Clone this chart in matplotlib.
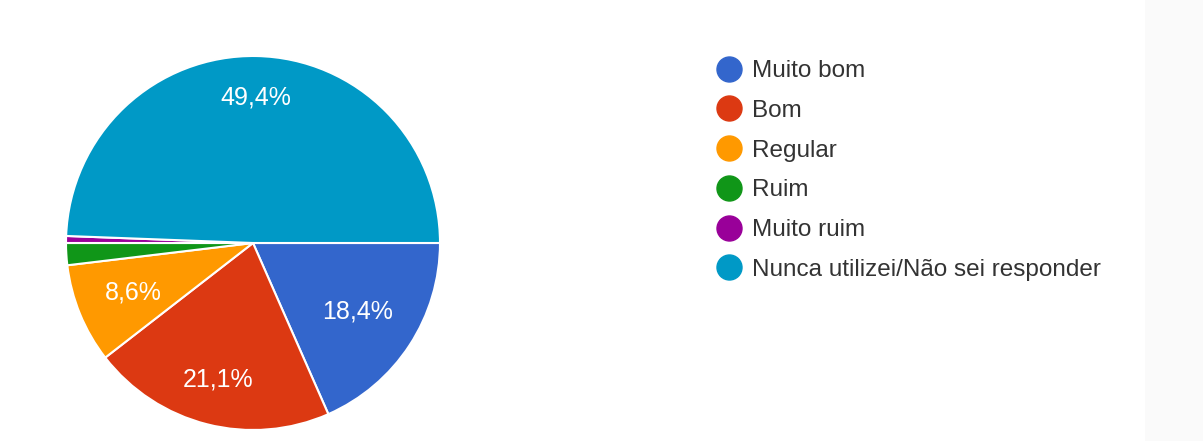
import matplotlib
matplotlib.use("Agg")
import matplotlib.pyplot as plt
from matplotlib.lines import Line2D
import numpy as np

categories = ["Muito bom", "Bom", "Regular", "Ruim", "Muito ruim", "Nunca utilizei/Não sei responder"]
values = [18.4, 21.1, 8.6, 1.9, 0.6, 49.4]
colors = ["#3366cc", "#dc3912", "#ff9900", "#109618", "#990099", "#0099c6"]
label_dist = [0.67, 0.755, 0.69, 0.7, 0.7, 0.78]

plt.rcParams['font.family'] = ['Liberation Sans', 'DejaVu Sans']

W, H = 1203, 441
fig = plt.figure(figsize=(W/100, H/100), dpi=100)
fig.patch.set_facecolor("white")
fig.patches.append(plt.Rectangle((1145/W, 0), 1 - 1145/W, 1, transform=fig.transFigure,
                                 facecolor="#fafafa", edgecolor="none", zorder=0))

cx, cy, r = 253, 243, 187
ax = fig.add_axes([(cx - r)/W, (H - cy - r)/H, 2*r/W, 2*r/H])

def fmt(p):
    return ("%.1f%%" % p).replace(".", ",") if p >= 5 else ""

wedges, texts, autotexts = ax.pie(values, colors=colors, startangle=0, counterclock=False,
                                  radius=1, autopct=fmt, pctdistance=0.7,
                                  wedgeprops=dict(edgecolor="white", linewidth=1.5),
                                  textprops=dict(color="white", fontsize=18))
ax.set_xlim(-1, 1)
ax.set_ylim(-1, 1)
ax.axis("off")
for w, t, d in zip(wedges, autotexts, label_dist):
    ang = np.deg2rad((w.theta1 + w.theta2) / 2)
    t.set_position((d*np.cos(ang), d*np.sin(ang)))
    t.set_ha("center"); t.set_va("center")

fs = 17.5
handles = [Line2D([0], [0], marker="o", linestyle="none", markersize=18,
                  markerfacecolor=c, markeredgecolor=c) for c in colors]
leg = fig.legend(handles, categories, loc="upper left",
                 bbox_to_anchor=(716.5/W, (H - 60)/H), frameon=False,
                 fontsize=fs, handlelength=1.0, handletextpad=0.48,
                 labelspacing=0.73, borderpad=0, borderaxespad=0)
for t in leg.get_texts():
    t.set_color("#333333")

fig.savefig("out.png", dpi=100, facecolor="white")
